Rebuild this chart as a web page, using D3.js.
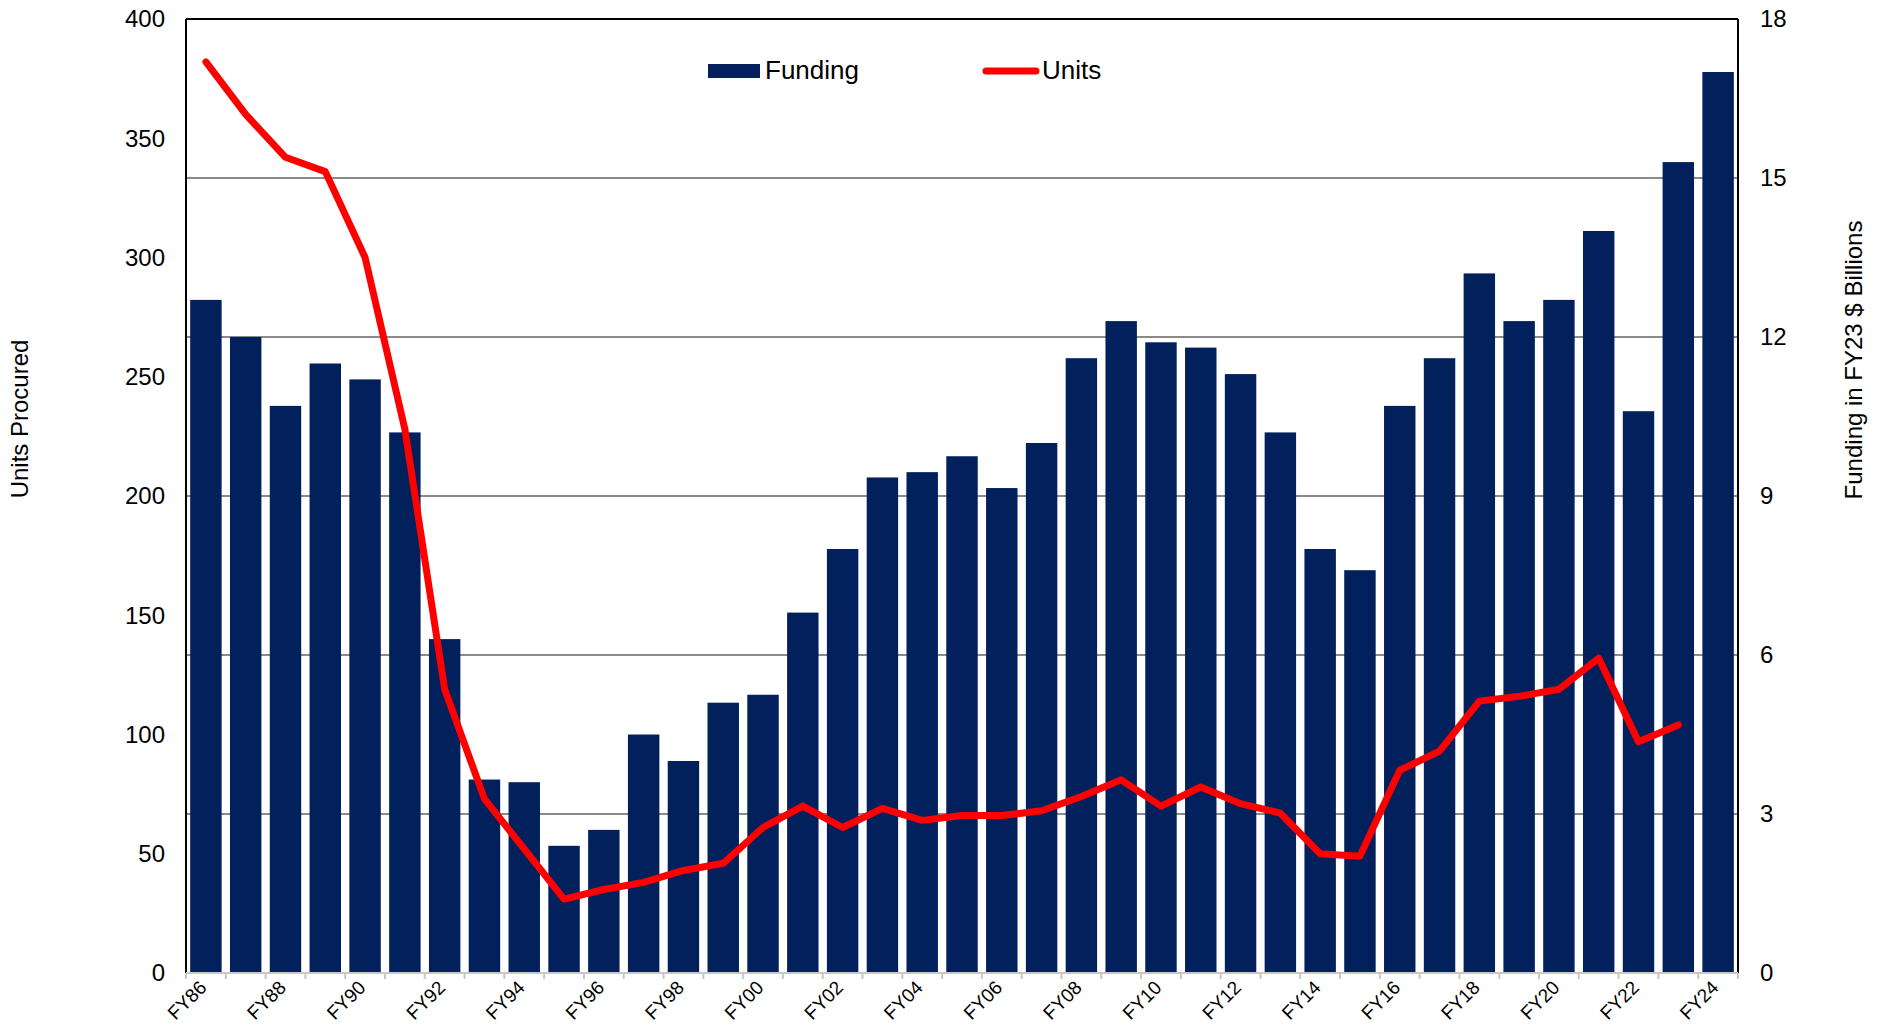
<!DOCTYPE html>
<html>
<head>
<meta charset="utf-8">
<script src="https://cdn.jsdelivr.net/npm/d3@7"></script>
<style>
  body { margin: 0; background: #fff; }
  text { font-family: "Liberation Sans", Arial, sans-serif; fill: #000; }
</style>
</head>
<body>
<svg id="chart" width="1885" height="1029"></svg>
<script>
// fiscal years
var years = ["FY86","FY87","FY88","FY89","FY90","FY91","FY92","FY93","FY94","FY95",
  "FY96","FY97","FY98","FY99","FY00","FY01","FY02","FY03","FY04","FY05",
  "FY06","FY07","FY08","FY09","FY10","FY11","FY12","FY13","FY14","FY15",
  "FY16","FY17","FY18","FY19","FY20","FY21","FY22","FY23","FY24"];

// funding, FY23 $ billions (right axis)
var funding = [12.7, 12.0, 10.7, 11.5, 11.2, 10.2, 6.3, 3.65, 3.6, 2.4,
  2.7, 4.5, 4.0, 5.1, 5.25, 6.8, 8.0, 9.35, 9.45, 9.75,
  9.15, 10.0, 11.6, 12.3, 11.9, 11.8, 11.3, 10.2, 8.0, 7.6,
  10.7, 11.6, 13.2, 12.3, 12.7, 14.0, 10.6, 15.3, 17.0];

// units procured (left axis), FY86..FY23
var units = [382, 360, 342, 336, 300, 228, 119, 73, 52, 31,
  35, 38, 43, 46, 61, 70, 61, 69, 64, 66,
  66, 68, 74, 81, 70, 78, 71, 67, 50, 49,
  85, 93, 114, 116, 119, 132, 97, 104];

var leftTicks = [0, 50, 100, 150, 200, 250, 300, 350, 400];
var rightTicks = [0, 3, 6, 9, 12, 15, 18];

var margin = {top: 19, right: 147, bottom: 56, left: 186};
var W = 1885, H = 1029;
var width = W - margin.left - margin.right,
    height = H - margin.top - margin.bottom;

var svg = d3.select("#chart");
var g = svg.append("g").attr("transform", "translate(" + margin.left + "," + margin.top + ")");

var x = d3.scaleBand().domain(years).range([0, width]).padding(0);
var yL = d3.scaleLinear().domain([0, 400]).range([height, 0]);
var yR = d3.scaleLinear().domain([0, 18]).range([height, 0]);

// gridlines from right axis
g.selectAll(".grid")
  .data(rightTicks.filter(function(d) { return d > 0 && d < 18; }))
  .enter().append("line")
  .attr("x1", 0).attr("x2", width)
  .attr("y1", function(d) { return yR(d); })
  .attr("y2", function(d) { return yR(d); })
  .style("stroke", "#8a8a8a")
  .style("stroke-width", 2);

// bars
var inset = x.bandwidth() * 0.105;
g.selectAll(".bar")
  .data(funding)
  .enter().append("rect")
  .attr("x", function(d, i) { return x(years[i]) + inset; })
  .attr("y", function(d) { return yR(d); })
  .attr("width", x.bandwidth() - 2 * inset)
  .attr("height", function(d) { return height - yR(d); })
  .style("fill", "#02205c");

// units line
var line = d3.line()
  .x(function(d, i) { return x(years[i]) + x.bandwidth() / 2; })
  .y(function(d) { return yL(d); });

g.append("path")
  .attr("d", line(units))
  .style("fill", "none")
  .style("stroke", "#ff0000")
  .style("stroke-width", 7)
  .style("stroke-linejoin", "round")
  .style("stroke-linecap", "round");

// frame
g.append("line").attr("x1", 0).attr("x2", width).attr("y1", 0).attr("y2", 0)
  .style("stroke", "#000").style("stroke-width", 2);
g.append("line").attr("x1", 0).attr("x2", 0).attr("y1", 0).attr("y2", height)
  .style("stroke", "#000").style("stroke-width", 2);
g.append("line").attr("x1", width).attr("x2", width).attr("y1", 0).attr("y2", height)
  .style("stroke", "#000").style("stroke-width", 2);

// x axis
var xAxis = g.append("g")
  .attr("transform", "translate(0," + height + ")");
xAxis.append("line").attr("x1", 0).attr("x2", width).attr("y1", 0).attr("y2", 0)
  .style("stroke", "#c8c8c8").style("stroke-width", 2);
xAxis.selectAll(".tick")
  .data(years.concat(["end"]))
  .enter().append("line")
  .attr("x1", function(d, i) { return i * x.step(); })
  .attr("x2", function(d, i) { return i * x.step(); })
  .attr("y1", 0).attr("y2", 6)
  .style("stroke", "#c8c8c8").style("stroke-width", 2);
xAxis.selectAll(".lbl")
  .data(years.filter(function(d, i) { return i % 2 === 0; }))
  .enter().append("text")
  .attr("transform", function(d) {
    return "translate(" + (x(d) + x.bandwidth() / 2 - 3) + ",11) rotate(-45)";
  })
  .attr("text-anchor", "end")
  .attr("dy", "0.35em")
  .style("font-size", "19px")
  .text(function(d) { return d; });

// left axis labels
g.selectAll(".ly")
  .data(leftTicks)
  .enter().append("text")
  .attr("x", -21)
  .attr("y", function(d) { return yL(d); })
  .attr("dy", "0.35em")
  .attr("text-anchor", "end")
  .style("font-size", "24px")
  .text(function(d) { return d; });

// right axis labels
g.selectAll(".ry")
  .data(rightTicks)
  .enter().append("text")
  .attr("x", width + 22)
  .attr("y", function(d) { return yR(d); })
  .attr("dy", "0.35em")
  .attr("text-anchor", "start")
  .style("font-size", "24px")
  .text(function(d) { return d; });

// axis titles
svg.append("text")
  .attr("transform", "translate(28," + 419 + ") rotate(-90)")
  .attr("text-anchor", "middle")
  .style("font-size", "24px")
  .text("Units Procured");

svg.append("text")
  .attr("transform", "translate(1862," + 360 + ") rotate(-90)")
  .attr("text-anchor", "middle")
  .style("font-size", "24px")
  .text("Funding in FY23 $ Billions");

// legend
var legend = svg.append("g");
legend.append("rect")
  .attr("x", 708).attr("y", 64).attr("width", 52).attr("height", 14)
  .style("fill", "#02205c");
legend.append("text")
  .attr("x", 765).attr("y", 79)
  .style("font-size", "26px")
  .text("Funding");
legend.append("line")
  .attr("x1", 986).attr("x2", 1036).attr("y1", 71).attr("y2", 71)
  .style("stroke", "#ff0000").style("stroke-width", 7).style("stroke-linecap", "round");
legend.append("text")
  .attr("x", 1042).attr("y", 79)
  .style("font-size", "26px")
  .text("Units");
</script>
</body>
</html>
